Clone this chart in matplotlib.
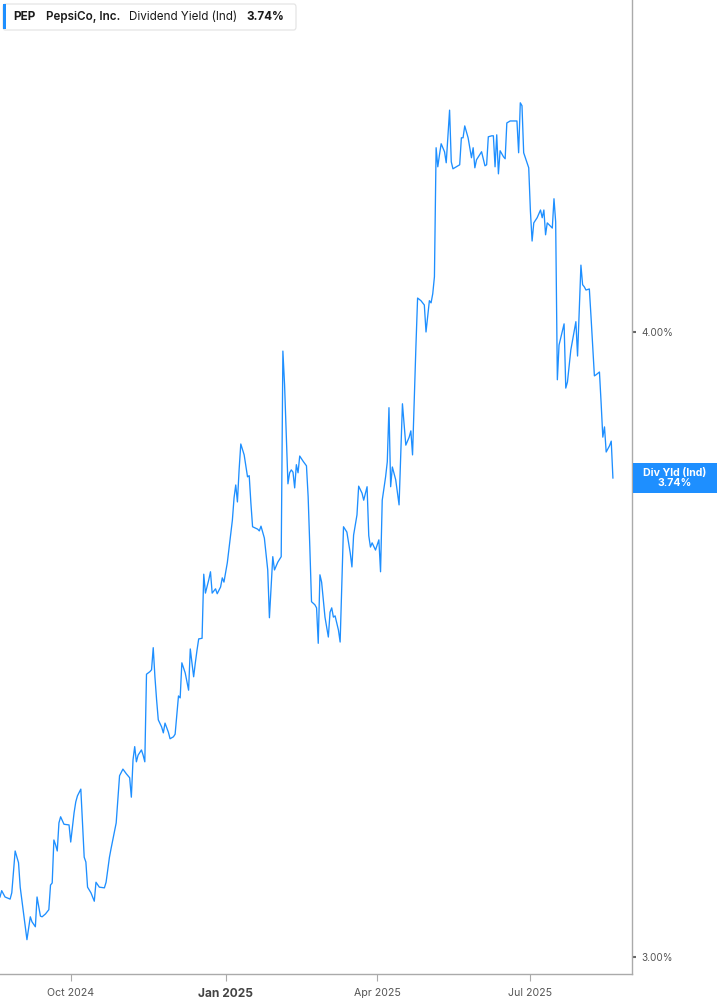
import numpy as np
import pandas as pd
import matplotlib.pyplot as plt
import matplotlib.dates as mdates
from matplotlib.patches import FancyBboxPatch, Rectangle
from matplotlib.ticker import FixedLocator, NullLocator

plt.rcParams['font.family'] = ['Inter', 'DejaVu Sans']

# PEP dividend yield (%)
dates = [
    "2024-08-20", "2024-08-21", "2024-08-23", "2024-08-26", "2024-08-27", "2024-08-29", "2024-08-31",
    "2024-09-01", "2024-09-03", "2024-09-05", "2024-09-07", "2024-09-08", "2024-09-10", "2024-09-11",
    "2024-09-13", "2024-09-14", "2024-09-16", "2024-09-18", "2024-09-19", "2024-09-20", "2024-09-21",
    "2024-09-22", "2024-09-23", "2024-09-24", "2024-09-25", "2024-09-27", "2024-09-30",
    "2024-10-01", "2024-10-03", "2024-10-04", "2024-10-05", "2024-10-07", "2024-10-09", "2024-10-10",
    "2024-10-11", "2024-10-13", "2024-10-15", "2024-10-16", "2024-10-18", "2024-10-21", "2024-10-22",
    "2024-10-24", "2024-10-25", "2024-10-28", "2024-10-30",
    "2024-11-01", "2024-11-03", "2024-11-05", "2024-11-06", "2024-11-07", "2024-11-08", "2024-11-09",
    "2024-11-10", "2024-11-12", "2024-11-13", "2024-11-14", "2024-11-15", "2024-11-17", "2024-11-18",
    "2024-11-19", "2024-11-20", "2024-11-21", "2024-11-22", "2024-11-24", "2024-11-25", "2024-11-26",
    "2024-11-28", "2024-11-29",
    "2024-12-01", "2024-12-02", "2024-12-04", "2024-12-05", "2024-12-06", "2024-12-08", "2024-12-10",
    "2024-12-11", "2024-12-13", "2024-12-14", "2024-12-15", "2024-12-16", "2024-12-18", "2024-12-19",
    "2024-12-20", "2024-12-22", "2024-12-23", "2024-12-24", "2024-12-26", "2024-12-27", "2024-12-29",
    "2024-12-30", "2024-12-31",
    "2025-01-02", "2025-01-03", "2025-01-05", "2025-01-06", "2025-01-07", "2025-01-08", "2025-01-09",
    "2025-01-10", "2025-01-12", "2025-01-14", "2025-01-15", "2025-01-16", "2025-01-17", "2025-01-20",
    "2025-01-21", "2025-01-22", "2025-01-24", "2025-01-26", "2025-01-27", "2025-01-29", "2025-01-30",
    "2025-02-01", "2025-02-03", "2025-02-04", "2025-02-05", "2025-02-07", "2025-02-08", "2025-02-09",
    "2025-02-10", "2025-02-11", "2025-02-12", "2025-02-13", "2025-02-14", "2025-02-16", "2025-02-18",
    "2025-02-19", "2025-02-20", "2025-02-21", "2025-02-23", "2025-02-24", "2025-02-25", "2025-02-26",
    "2025-02-27", "2025-02-28",
    "2025-03-01", "2025-03-03", "2025-03-04", "2025-03-05", "2025-03-06", "2025-03-07", "2025-03-09",
    "2025-03-10", "2025-03-12", "2025-03-14", "2025-03-16", "2025-03-17", "2025-03-18", "2025-03-20",
    "2025-03-21", "2025-03-23", "2025-03-24", "2025-03-26", "2025-03-27", "2025-03-28", "2025-03-29",
    "2025-03-31",
    "2025-04-02", "2025-04-03", "2025-04-04", "2025-04-06", "2025-04-07", "2025-04-08", "2025-04-09",
    "2025-04-10", "2025-04-12", "2025-04-14", "2025-04-16", "2025-04-18", "2025-04-20", "2025-04-21",
    "2025-04-22", "2025-04-24", "2025-04-25", "2025-04-27", "2025-04-29", "2025-04-30",
    "2025-05-02", "2025-05-03", "2025-05-04", "2025-05-05", "2025-05-06", "2025-05-07", "2025-05-08",
    "2025-05-09", "2025-05-11", "2025-05-12", "2025-05-14", "2025-05-15", "2025-05-16", "2025-05-18",
    "2025-05-20", "2025-05-21", "2025-05-22", "2025-05-23", "2025-05-25", "2025-05-27", "2025-05-28",
    "2025-05-29", "2025-05-30",
    "2025-06-02", "2025-06-04", "2025-06-05", "2025-06-06", "2025-06-08", "2025-06-09", "2025-06-10",
    "2025-06-11", "2025-06-12", "2025-06-13", "2025-06-15", "2025-06-16", "2025-06-17", "2025-06-19",
    "2025-06-23", "2025-06-24", "2025-06-25", "2025-06-26", "2025-06-27", "2025-06-30",
    "2025-07-01", "2025-07-02", "2025-07-03", "2025-07-05", "2025-07-07", "2025-07-08", "2025-07-09",
    "2025-07-10", "2025-07-11", "2025-07-14", "2025-07-15", "2025-07-16", "2025-07-17", "2025-07-18",
    "2025-07-21", "2025-07-22", "2025-07-23", "2025-07-25", "2025-07-28", "2025-07-29", "2025-07-31",
    "2025-08-01", "2025-08-02", "2025-08-03", "2025-08-05", "2025-08-06", "2025-08-08", "2025-08-09",
    "2025-08-11", "2025-08-12", "2025-08-13", "2025-08-14", "2025-08-15", "2025-08-17", "2025-08-18",
    "2025-08-19",
]

div_yield = [
    3.084, 3.093, 3.084, 3.081, 3.090, 3.150, 3.133,
    3.098, 3.061, 3.024, 3.056, 3.049, 3.042, 3.084, 3.057, 3.056, 3.060, 3.066, 3.101, 3.104, 3.166,
    3.159, 3.150, 3.191, 3.200, 3.189, 3.188,
    3.163, 3.206, 3.222, 3.231, 3.241, 3.141, 3.134, 3.098, 3.090, 3.078, 3.105, 3.098, 3.097, 3.105,
    3.141, 3.154, 3.191, 3.261,
    3.271, 3.264, 3.258, 3.229, 3.285, 3.305, 3.282, 3.292, 3.300, 3.292, 3.282, 3.417, 3.421, 3.424,
    3.459, 3.413, 3.377, 3.346, 3.335, 3.326, 3.341, 3.327, 3.317,
    3.320, 3.324, 3.383, 3.380, 3.435, 3.419, 3.392, 3.457, 3.413, 3.435, 3.455, 3.473, 3.474, 3.578,
    3.547, 3.569, 3.582, 3.547, 3.554, 3.546, 3.557, 3.572, 3.565,
    3.597, 3.621, 3.668, 3.706, 3.728, 3.699, 3.754, 3.799, 3.780, 3.742, 3.744, 3.697, 3.657, 3.653,
    3.650, 3.658, 3.638, 3.585, 3.507, 3.607, 3.585,
    3.598, 3.607, 3.965, 3.904, 3.730, 3.749, 3.754, 3.750, 3.723, 3.763, 3.749, 3.778, 3.769, 3.761,
    3.708, 3.623, 3.533, 3.528, 3.523, 3.466, 3.577, 3.565, 3.536,
    3.508, 3.476, 3.516, 3.523, 3.508, 3.510, 3.487, 3.468, 3.657, 3.648, 3.613, 3.590, 3.643, 3.677,
    3.726, 3.714, 3.702, 3.725, 3.642, 3.623, 3.630, 3.618,
    3.635, 3.582, 3.702, 3.742, 3.768, 3.863, 3.725, 3.759, 3.737, 3.694, 3.870, 3.797, 3.811, 3.822,
    3.780, 3.973, 4.063, 4.058, 4.050, 4.000,
    4.058, 4.054, 4.071, 4.103, 4.354, 4.316, 4.340, 4.362, 4.346, 4.324, 4.430, 4.326, 4.312, 4.316,
    4.320, 4.374, 4.374, 4.398, 4.374, 4.334, 4.354, 4.314, 4.330,
    4.346, 4.318, 4.320, 4.376, 4.378, 4.378, 4.316, 4.380, 4.302, 4.348, 4.336, 4.332, 4.404, 4.408,
    4.408, 4.344, 4.445, 4.439, 4.344, 4.314,
    4.229, 4.171, 4.206, 4.216, 4.231, 4.216, 4.231, 4.183, 4.206, 4.196, 4.253, 4.208, 3.913, 3.976,
    4.015, 3.898, 3.909, 3.967, 4.019, 3.956, 4.125,
    4.088, 4.084, 4.078, 4.080, 4.028, 3.920, 3.922, 3.927, 3.871, 3.811, 3.829, 3.785, 3.796, 3.804,
    3.740,
]

ticker = "PEP"
company = "PepsiCo, Inc."
metric = "Dividend Yield (Ind)"
short_metric = "Div Yld (Ind)"
y_ticks = [3.0, 4.0]
x_ticks = ["2024-10-01", "2025-01-01", "2025-04-01", "2025-07-01"]
x_tick_labels = ["Oct 2024", "Jan 2025", "Apr 2025", "Jul 2025"]

blue = '#1e8fff'
W, H = 717, 1005
x = pd.to_datetime(dates)
last = div_yield[-1]

fig = plt.figure(figsize=(W / 100, H / 100), dpi=100)
ax = fig.add_axes([0, 31 / H, 632 / W, 974 / H])
ax.plot(x, div_yield, color=blue, lw=0.95)

ax.set_yscale('log')
ax.set_ylim(2.9766, 4.6604)
ax.set_xlim(pd.Timestamp("2024-08-20"), pd.Timestamp("2025-08-30 08:00"))

ax.yaxis.tick_right()
ax.yaxis.set_major_locator(FixedLocator(y_ticks))
ax.yaxis.set_minor_locator(NullLocator())
ax.set_yticklabels([f"{v:.2f}%" for v in y_ticks])
ax.tick_params(axis='y', direction='out', length=3, width=1.5, color='#666666',
               labelsize=7.2, labelcolor='#555555', pad=4)

ax.set_xticks(pd.to_datetime(x_ticks))
ax.set_xticklabels(x_tick_labels)
ax.tick_params(axis='x', direction='out', length=5, width=0.8, color='#aaaaaa',
               labelsize=7.6, labelcolor='#555555', pad=5)
jan = ax.get_xticklabels()[1]
jan.set_fontweight('bold')
jan.set_fontsize(8.6)
jan.set_color('#444444')

for s in ['top', 'left']:
    ax.spines[s].set_visible(False)
for s in ['right', 'bottom']:
    ax.spines[s].set_color('#aaaaaa')
    ax.spines[s].set_linewidth(1)

# legend box top-left
fig.patches.append(FancyBboxPatch((3 / W, 1 - 30 / H), 293 / W, 26 / H,
                                  boxstyle="round,pad=0,rounding_size=0.003",
                                  transform=fig.transFigure, fc='white', ec='#e2e2e2', lw=0.8))
fig.patches.append(Rectangle((3 / W, 1 - 29.5 / H), 3 / W, 25 / H,
                             transform=fig.transFigure, fc=blue, ec='none'))
ty = 1 - 17 / H
fs = 8.4
fig.text(13 / W, ty, ticker, fontsize=fs, fontweight='bold', color='#1a1a1a', va='center')
fig.text(46 / W, ty, company, fontsize=fs, fontweight='semibold', color='#1a1a1a', va='center')
fig.text(129 / W, ty, metric, fontsize=fs, color='#1a1a1a', va='center')
fig.text(246 / W, ty, f"{last:.2f}%", fontsize=fs, fontweight='bold', color='#1a1a1a', va='center')

# last value tag on the right axis
yd = ax.transData.transform((mdates.date2num(x[-1]), last))[1] / H
fig.patches.append(Rectangle((633 / W, yd - 15 / H), 84 / W, 30 / H,
                             transform=fig.transFigure, fc=blue, ec='none'))
fig.text(675 / W, yd, f"{short_metric}\n{last:.2f}%", fontsize=7.6, fontweight='bold',
         color='white', ha='center', va='center', linespacing=1.0)

fig.savefig('out.png', dpi=100)
